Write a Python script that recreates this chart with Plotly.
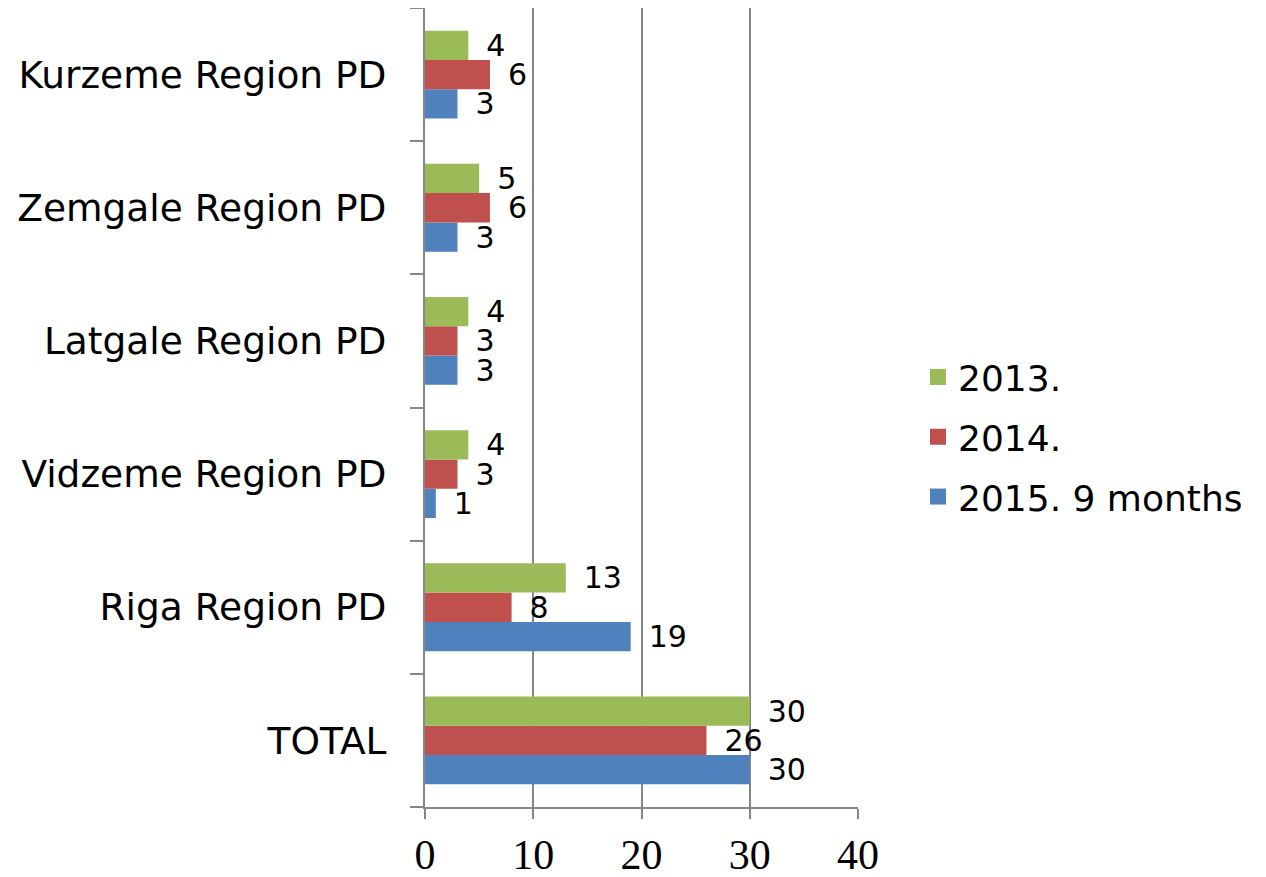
import plotly.graph_objects as go

categories = ["TOTAL", "Riga Region PD", "Vidzeme Region PD", "Latgale Region PD",
              "Zemgale Region PD", "Kurzeme Region PD"]
v2013 = [30, 13, 4, 4, 5, 4]
v2014 = [26, 8, 3, 3, 6, 6]
v2015 = [30, 19, 1, 3, 3, 3]
x_ticks = [0, 10, 20, 30, 40]

series = [
    ("2015. 9 months", v2015, "#4F81BD"),
    ("2014.", v2014, "#C0504D"),
    ("2013.", v2013, "#9BBB59"),
]

fig = go.Figure()
for name, vals, color in series:
    fig.add_trace(go.Bar(
        y=categories, x=vals, name=name, orientation="h",
        marker=dict(color=color, line=dict(width=0)),
        text=["\u2002" + str(v) for v in vals],
        textposition="outside",
        constraintext="none",
        textfont=dict(family="DejaVu Sans", size=30, color="black"),
        cliponaxis=False, showlegend=False,
    ))
# legend entries with larger square swatches (2013 listed first)
for name, vals, color in reversed(series):
    fig.add_trace(go.Scatter(
        x=[None], y=[None], mode="markers", name=name, legendgroup=name,
        marker=dict(symbol="square", size=20, color=color),
        showlegend=True,
    ))

fig.update_layout(
    width=1258, height=869,
    margin=dict(l=417, r=408, t=0, b=70),
    paper_bgcolor="white", plot_bgcolor="white",
    barmode="group", bargap=0.34, bargroupgap=0,
    legend=dict(
        traceorder="grouped", x=1.1386, y=0.463, xanchor="left", yanchor="middle",
        font=dict(family="DejaVu Sans", size=36, color="black"),
        tracegroupgap=10, itemwidth=30,
    ),
    xaxis=dict(
        range=[0, 40], tickvals=x_ticks, ticktext=[str(t) for t in x_ticks],
        showgrid=True, gridcolor="#868686", gridwidth=2,
        showline=True, linecolor="#868686", linewidth=2,
        ticks="outside", ticklen=10, tickwidth=2, tickcolor="#868686",
        tickfont=dict(family="Liberation Serif", size=42, color="black"),
        zeroline=False, ticklabelstandoff=0,
    ),
    yaxis=dict(
        type="category", categoryorder="array", categoryarray=categories,
        showline=True, linecolor="#868686", linewidth=2,
        ticks="outside", ticklen=13, tickwidth=2, tickcolor="#868686",
        tickson="boundaries", showgrid=False,
        tickfont=dict(family="DejaVu Sans", size=37.5, color="black"),
        ticklabelstandoff=29,
    ),
)

fig.write_html("out.html")
